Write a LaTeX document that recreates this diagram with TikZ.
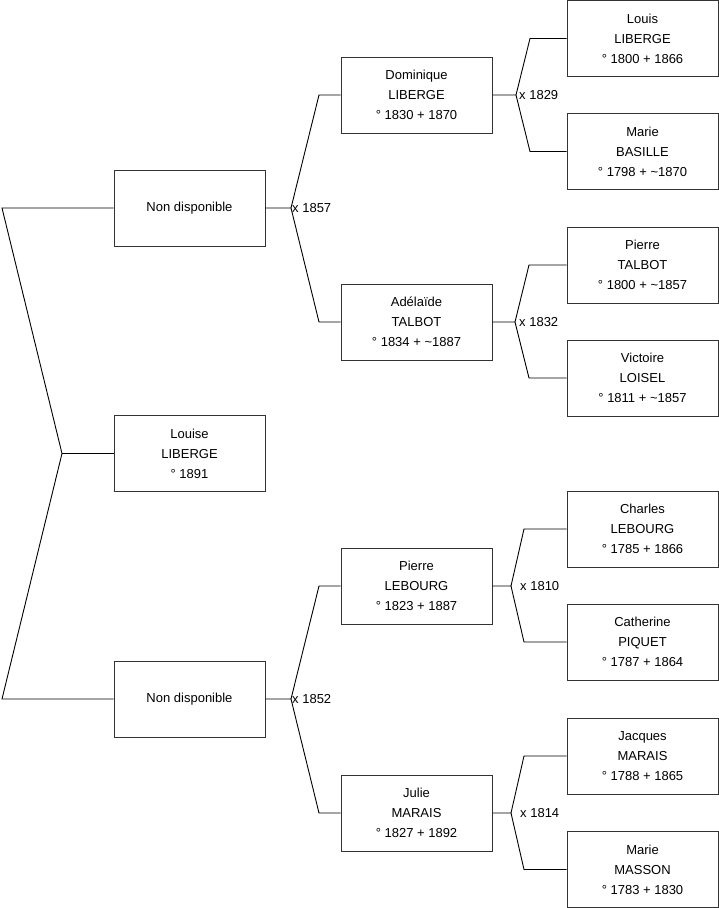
\documentclass[tikz,border=0pt]{standalone}
\usepackage{fontspec}
\setmainfont{Liberation Sans}
\begin{document}
\begin{tikzpicture}[x=1pt,y=-1pt,
  person/.style={draw=black!80, line width=1pt, minimum width=151pt, minimum height=76pt,
    inner sep=0pt, align=center, font=\fontsize{13}{20}\selectfont},
  link/.style={draw=black, line width=0.9pt},
  mlabel/.style={anchor=west, inner sep=0pt, font=\fontsize{13}{16}\selectfont}]
\useasboundingbox (0,0) rectangle (719,908);
\newcommand{\fork}[7]{%
  \draw[link] (#1.east) -- (#4,0 |- #1.east) coordinate (J) -- (#5,0 |- #2.west) -- (#2.west);
  \draw[link] (J) -- (#5,0 |- #3.west) -- (#3.west);
  \node[mlabel] at (#6,0 |- J) {#7};}
% level 0
\node[person] (louise) at (189.5,453.5) {Louise\\LIBERGE\\° 1891};
% level 1
\node[person] (nd1) at (189.5,208) {Non disponible};
\node[person] (nd2) at (189.5,699) {Non disponible};
% level 2
\node[person] (dom) at (416.5,95) {Dominique\\LIBERGE\\° 1830 + 1870};
\node[person] (ade) at (416.5,322) {Adélaïde\\TALBOT\\° 1834 + \textasciitilde 1887};
\node[person] (pie) at (416.5,586) {Pierre\\LEBOURG\\° 1823 + 1887};
\node[person] (jul) at (416.5,813) {Julie\\MARAIS\\° 1827 + 1892};
% level 3
\node[person] (lou) at (642.5,38.5) {Louis\\LIBERGE\\° 1800 + 1866};
\node[person] (mab) at (642.5,151.5) {Marie\\BASILLE\\° 1798 + \textasciitilde 1870};
\node[person] (pit) at (642.5,265) {Pierre\\TALBOT\\° 1800 + \textasciitilde 1857};
\node[person] (vic) at (642.5,378) {Victoire\\LOISEL\\° 1811 + \textasciitilde 1857};
\node[person] (cha) at (642.5,529) {Charles\\LEBOURG\\° 1785 + 1866};
\node[person] (cat) at (642.5,642) {Catherine\\PIQUET\\° 1787 + 1864};
\node[person] (jac) at (642.5,756) {Jacques\\MARAIS\\° 1788 + 1865};
\node[person] (mam) at (642.5,869.5) {Marie\\MASSON\\° 1783 + 1830};
% root fork
\draw[link] (louise.west) -- (62,0 |- louise.west) coordinate (R);
\draw[link] (R) -- (2,0 |- nd1.west) -- (nd1.west);
\draw[link] (R) -- (2,0 |- nd2.west) -- (nd2.west);
% forks
\fork{nd1}{dom}{ade}{291}{319}{292}{x 1857}
\fork{nd2}{pie}{jul}{291}{319}{292}{x 1852}
\fork{dom}{lou}{mab}{516}{530}{519}{x 1829}
\fork{ade}{pit}{vic}{515}{529}{519}{x 1832}
\fork{pie}{cha}{cat}{511}{524}{520}{x 1810}
\fork{jul}{jac}{mam}{511}{524}{520}{x 1814}
\end{tikzpicture}
\end{document}
